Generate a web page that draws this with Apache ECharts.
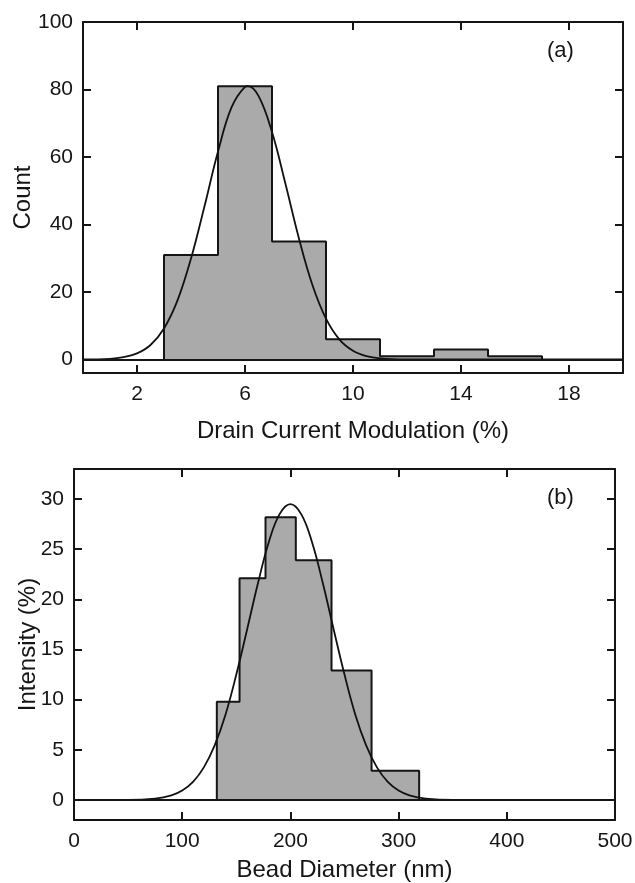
<!DOCTYPE html>
<html>
<head>
<meta charset="utf-8">
<script src="https://cdn.jsdelivr.net/npm/echarts@6/dist/echarts.min.js"></script>
<style>
html,body{margin:0;padding:0;background:#fff;}
#chart{width:635px;height:883px;}
</style>
</head>
<body>
<div id="chart"></div>
<script>
// ---- Panel (a): drain current modulation histogram ----
var binEdgesA = [3, 5, 7, 9, 11, 13, 15, 17];
var countsA = [31, 81, 35, 6, 1, 3, 1];
var fitXA = [0, 1, 1.5, 2, 2.5, 3, 3.5, 4, 4.5, 5, 5.5, 6, 6.1, 6.5, 7, 7.5, 8, 8.5, 9, 9.5, 10, 10.5, 11, 12, 13, 20];
var fitYA = [0, 0.2, 0.7, 1.8, 4.3, 9.2, 17.5, 29.9, 45.4, 61.6, 74.7, 80.8, 81, 78.1, 67.4, 52.0, 35.8, 22.0, 12.1, 5.9, 2.6, 1.0, 0.35, 0.03, 0, 0];
var xTicksA = [2, 6, 10, 14, 18];
var yTicksA = [0, 20, 40, 60, 80, 100];

// ---- Panel (b): bead diameter histogram ----
var binEdgesB = [132, 153, 177, 205, 238, 275, 319];
var intensityB = [9.8, 22.1, 28.2, 23.9, 12.9, 2.9];
var fitXB = [0, 50, 75, 90, 100, 110, 120, 130, 140, 150, 160, 170, 180, 190, 200, 210, 220, 230, 240, 250, 260, 270, 280, 290, 300, 310, 325, 350, 500];
var fitYB = [0, 0, 0.14, 0.46, 0.94, 1.8, 3.25, 5.45, 8.5, 12.5, 17.0, 21.6, 25.7, 28.5, 29.5, 28.5, 25.7, 21.6, 17.0, 12.5, 8.5, 5.45, 3.25, 1.8, 0.94, 0.46, 0.14, 0, 0];
var xTicksB = [0, 100, 200, 300, 400, 500];
var yTicksB = [0, 5, 10, 15, 20, 25, 30];

function stepData(edges, vals) {
  var d = [[edges[0], 0]];
  for (var i = 0; i < vals.length; i++) d.push([edges[i], vals[i]]);
  d.push([edges[edges.length - 1], 0]);
  return d;
}
function pairs(xs, ys) { return xs.map(function (x, i) { return [x, ys[i]]; }); }

var FONT = "'Liberation Sans', Arial, Helvetica, sans-serif";
var INK = '#151515';
var lineStyle = { color: INK, width: 2 };

function xAxisPair(gridIndex, min, max, ticks, name, nameGap) {
  return [{
    type: 'value', gridIndex: gridIndex, position: 'bottom', min: min, max: max,
    name: name, nameLocation: 'middle', nameGap: nameGap, nameMoveOverlap: false,
    nameTextStyle: { fontFamily: FONT, fontSize: 24, color: INK },
    axisLine: { show: true, onZero: false, lineStyle: lineStyle },
    axisTick: { show: true, inside: true, length: 8, customValues: ticks, lineStyle: lineStyle },
    axisLabel: { show: true, margin: 11, customValues: ticks, fontFamily: FONT, fontSize: 21, color: INK, showMinLabel: true, showMaxLabel: true },
    splitLine: { show: false }
  }, {
    type: 'value', gridIndex: gridIndex, position: 'top', min: min, max: max,
    axisLine: { show: true, onZero: false, lineStyle: lineStyle },
    axisTick: { show: true, inside: true, length: 8, customValues: ticks, lineStyle: lineStyle },
    axisLabel: { show: false },
    splitLine: { show: false }
  }];
}
function yAxisPair(gridIndex, min, max, ticks, name, nameGap) {
  return [{
    type: 'value', gridIndex: gridIndex, position: 'left', min: min, max: max,
    name: name, nameLocation: 'middle', nameGap: nameGap, nameMoveOverlap: false,
    nameTextStyle: { fontFamily: FONT, fontSize: 24, color: INK },
    axisLine: { show: true, onZero: false, lineStyle: lineStyle },
    axisTick: { show: true, inside: true, length: 8, customValues: ticks, lineStyle: lineStyle },
    axisLabel: { show: true, margin: 10, customValues: ticks, fontFamily: FONT, fontSize: 21, color: INK },
    splitLine: { show: false }
  }, {
    type: 'value', gridIndex: gridIndex, position: 'right', min: min, max: max,
    axisLine: { show: true, onZero: false, lineStyle: lineStyle },
    axisTick: { show: true, inside: true, length: 8, customValues: ticks, lineStyle: lineStyle },
    axisLabel: { show: false },
    splitLine: { show: false }
  }];
}

var xAxes = xAxisPair(0, 0, 20, xTicksA, 'Drain Current Modulation (%)', 46)
  .concat(xAxisPair(1, 0, 500, xTicksB, 'Bead Diameter (nm)', 38));
var yAxes = yAxisPair(0, -4, 100, yTicksA, 'Count', 48)
  .concat(yAxisPair(1, -2, 33, yTicksB, 'Intensity (%)', 34));

function histSeries(xi, yi, data) {
  return {
    type: 'line', xAxisIndex: xi, yAxisIndex: yi, step: 'end', data: data,
    symbol: 'none', silent: true, z: 2,
    lineStyle: { color: INK, width: 2 },
    areaStyle: { color: '#aaaaaa', opacity: 1, origin: 0 },
    markLine: {
      silent: true, symbol: 'none', label: { show: false },
      lineStyle: { color: INK, width: 2, type: 'solid' },
      data: [{ yAxis: 0 }]
    }
  };
}
function fitSeries(xi, yi, data) {
  return {
    type: 'line', xAxisIndex: xi, yAxisIndex: yi, data: data, smooth: 0.4,
    symbol: 'none', silent: true, z: 3,
    lineStyle: { color: '#111', width: 1.8 }
  };
}

var option = {
  backgroundColor: '#fff',
  animation: false,
  grid: [
    { left: 83, right: 12, top: 22, bottom: 510, containLabel: false, outerBoundsMode: 'none' },
    { left: 74, right: 20, top: 469, bottom: 63, containLabel: false, outerBoundsMode: 'none' }
  ],
  xAxis: xAxes,
  yAxis: yAxes,
  series: [
    histSeries(0, 0, stepData(binEdgesA, countsA)),
    fitSeries(0, 0, pairs(fitXA, fitYA)),
    histSeries(2, 2, stepData(binEdgesB, intensityB)),
    fitSeries(2, 2, pairs(fitXB, fitYB))
  ],
  graphic: [
    { type: 'text', left: 547, top: 40, style: { text: '(a)', font: "22px " + FONT, fill: INK } },
    { type: 'text', left: 547, top: 487, style: { text: '(b)', font: "22px " + FONT, fill: INK } }
  ]
};

var chart = echarts.init(document.getElementById('chart'), null, { renderer: 'canvas' });
chart.setOption(option);
</script>
</body>
</html>
